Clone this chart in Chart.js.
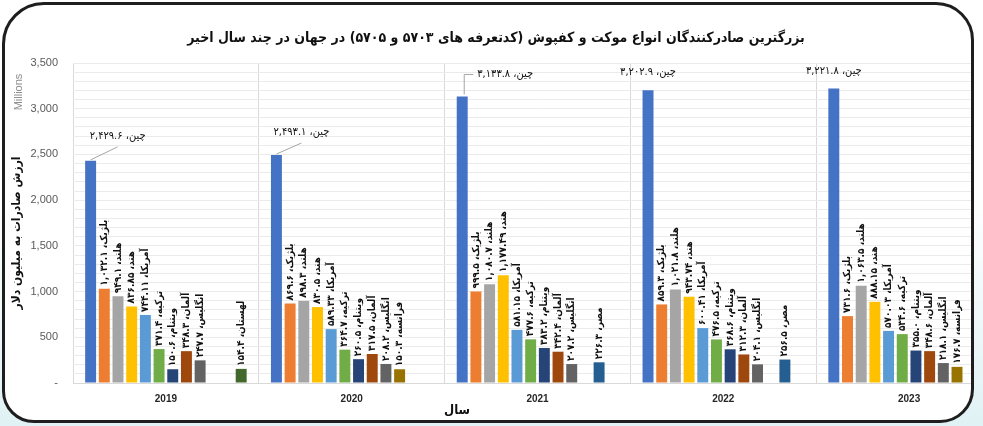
<!DOCTYPE html>
<html>
<head>
<meta charset="utf-8">
<script src="https://cdn.jsdelivr.net/npm/chart.js@4.4.1/dist/chart.umd.min.js"></script>
<style>
  html, body { margin: 0; padding: 0; }
  body {
    width: 983px; height: 426px; overflow: hidden; position: relative;
    background: linear-gradient(180deg, #ffffff 45%, #e0f2f5 100%);
  }
  #frame {
    position: absolute; left: 2px; top: 2px; width: 966px; height: 415px;
    border: 3px solid #1e1e1e; border-radius: 42px 38px 34px 32px;
    overflow: hidden; background: #fff;
  }
  #chart { position: absolute; left: -5px; top: -5px; }
</style>
</head>
<body>
<div id="frame"><canvas id="chart" width="1010" height="426"></canvas></div>
<script>
// categories
const years = ["2019", "2020", "2021", "2022", "2023"];

// countries (series names) and values, million USD
const countries = ["چین", "بلژیک", "هلند", "هند", "آمریکا", "ترکیه", "ویتنام", "آلمان", "انگلیس", "فرانسه", "مصر", "لهستان"];
const china       = [2429.6, 2493.1, 3133.8, 3202.9, 3221.8];
const belgium     = [1032.1, 869.6, 999.5, 859.3, 731.6];
const netherlands = [949.1, 898.3, 1080.7, 1021.8, 1063.5];
const india       = [836.85, 830.5, 1177.49, 943.74, 888.15];
const usa         = [744.11, 589.33, 581.15, 600.41, 570.03];
const turkey      = [371.4, 364.7, 477.6, 476.5, 534.6];
const vietnam     = [150.6, 260.5, 383.2, 368.6, 355.0];
const germany     = [348.3, 317.5, 342.4, 312.3, 348.6];
const uk          = [247.7, 208.2, 207.2, 204.1, 218.1];
const france      = [null, 150.3, null, null, 176.7];
const egypt       = [null, null, 226.3, 256.5, null];
const poland      = [154.4, null, null, null, null];

const colors = ["#4472C4", "#ED7D31", "#A5A5A5", "#FFC000", "#5B9BD5", "#70AD47",
                "#264478", "#9E480E", "#636363", "#997300", "#255E91", "#43682B"];

const seriesValues = [china, belgium, netherlands, india, usa, turkey, vietnam, germany, uk, france, egypt, poland];

const faFont = "'DejaVu Sans Condensed', 'DejaVu Sans', sans-serif";

function toFa(s) {
    return s.replace(/[0-9]/g, d => "۰۱۲۳۴۵۶۷۸۹"[d]);
}
function fmt(v) {
    return toFa(v.toLocaleString("en-US", { minimumFractionDigits: 1, maximumFractionDigits: 2 }));
}

// where the china label sits relative to its bar top (text centre offset)
const chinaLabelOffset = [[27, -25, "line"], [25, -23, "line"], [43, -22, "elbow"], [0, -18, ""], [0, -17, ""]];

const labelsPlugin = {
    id: "labels",
    afterDatasetsDraw(chart) {
        const ctx = chart.ctx;
        ctx.save();

        // title
        ctx.fillStyle = "#111";
        ctx.font = "bold 14px " + faFont;
        ctx.textAlign = "center";
        ctx.textBaseline = "middle";
        ctx.direction = "rtl";
        ctx.fillText("بزرگترین صادرکنندگان انواع موکت و کفپوش (کدتعرفه های ۵۷۰۳ و ۵۷۰۵) در جهان در چند سال اخیر", 496, 38);

        // axis titles
        ctx.font = "bold 13px " + faFont;
        ctx.fillText("سال", 457, 411);

        ctx.save();
        ctx.translate(17, 233);
        ctx.rotate(-Math.PI / 2);
        ctx.font = "bold 12px " + faFont;
        ctx.fillText("ارزش صادرات به میلیون دلار", 0, 0);
        ctx.restore();

        ctx.save();
        ctx.translate(19, 92);
        ctx.rotate(-Math.PI / 2);
        ctx.direction = "ltr";
        ctx.fillStyle = "#8c8c8c";
        ctx.font = "11px 'Liberation Sans', Arial, sans-serif";
        ctx.fillText("Millions", 0, 0);
        ctx.restore();

        // data labels
        chart.data.datasets.forEach((ds, i) => {
            const meta = chart.getDatasetMeta(i);
            meta.data.forEach((bar, j) => {
                const v = ds.data[j];
                if (v == null) return;
                const txt = countries[i] + "، " + fmt(v);
                ctx.fillStyle = "#111";
                if (i === 0) {
                    const [dx, dy, kind] = chinaLabelOffset[j];
                    const tx = bar.x + dx, ty = bar.y + dy;
                    ctx.font = "11px " + faFont;
                    ctx.textAlign = "center";
                    ctx.textBaseline = "middle";
                    ctx.direction = "rtl";
                    ctx.fillText(txt, tx, ty);
                    const w = ctx.measureText(txt).width;
                    ctx.strokeStyle = "#a6a6a6";
                    ctx.lineWidth = 1;
                    ctx.beginPath();
                    if (kind === "line") {
                        ctx.moveTo(bar.x, bar.y - 1);
                        ctx.lineTo(tx, ty + 11);
                    } else if (kind === "elbow") {
                        ctx.moveTo(bar.x + 2, bar.y - 2);
                        ctx.lineTo(bar.x + 2, ty);
                        ctx.lineTo(tx - w / 2 - 4, ty);
                    }
                    ctx.stroke();
                } else {
                    ctx.save();
                    ctx.translate(bar.x, bar.y - 3);
                    ctx.rotate(-Math.PI / 2);
                    ctx.font = "bold 10px " + faFont;
                    ctx.textAlign = "left";
                    ctx.textBaseline = "middle";
                    ctx.direction = "rtl";
                    ctx.fillText(txt, 0, 0);
                    ctx.restore();
                }
            });
        });
        ctx.restore();
    }
};

new Chart(document.getElementById("chart"), {
    type: "bar",
    data: {
        labels: years,
        datasets: seriesValues.map((vals, i) => ({
            label: countries[i],
            data: vals,
            backgroundColor: colors[i],
            categoryPercentage: 0.884,
            barPercentage: 0.8
        }))
    },
    options: {
        responsive: false,
        animation: false,
        layout: { padding: { left: 0, right: 8, top: 63, bottom: 0 } },
        plugins: { legend: { display: false }, tooltip: { enabled: false }, title: { display: false } },
        scales: {
            x: {
                grid: { offset: true, color: "#d9d9d9", drawTicks: false },
                border: { color: "#d9d9d9" },
                ticks: { padding: 10, color: "#262626", font: { family: "'Liberation Sans', Arial", size: 10, weight: "bold" } },
                afterFit(s) { s.height = 43; }
            },
            y: {
                min: 0, max: 3500,
                grid: { color: "#ebebeb", drawTicks: false },
                border: { display: false },
                ticks: {
                    stepSize: 100, autoSkip: false, maxTicksLimit: 40, padding: 15,
                    color: "#595959", font: { family: "'Liberation Sans', Arial", size: 11 },
                    callback: v => v === 0 ? "-" : (v % 500 === 0 ? v.toLocaleString("en-US") : "")
                },
                afterFit(s) { s.width = 73; }
            }
        }
    },
    plugins: [labelsPlugin]
});
</script>
</body>
</html>
